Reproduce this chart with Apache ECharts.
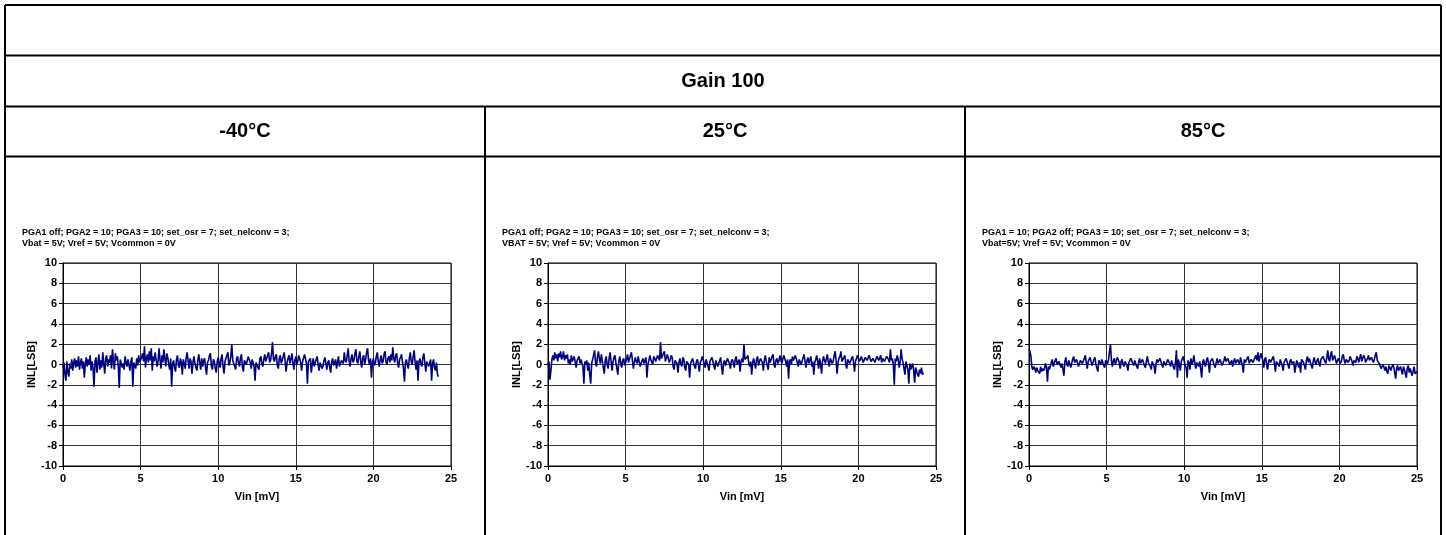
<!DOCTYPE html>
<html>
<head>
<meta charset="utf-8">
<script src="https://cdn.jsdelivr.net/npm/echarts@6/dist/echarts.min.js"></script>
<style>
  html, body { margin: 0; padding: 0; background: #fff; }
  #main { width: 1446px; height: 535px; }
</style>
</head>
<body>
<div id="main"></div>
<script>
'use strict';

// table headers
var tableTitle = 'Gain 100';
var temperatures = ['-40°C', '25°C', '85°C'];
var conditions = [
    ['PGA1 off; PGA2 = 10; PGA3 = 10; set_osr = 7; set_nelconv = 3;', 'Vbat = 5V; Vref = 5V; Vcommon = 0V'],
    ['PGA1 off; PGA2 = 10; PGA3 = 10; set_osr = 7; set_nelconv = 3;', 'VBAT = 5V; Vref = 5V; Vcommon = 0V'],
    ['PGA1 = 10; PGA2 off; PGA3 = 10; set_osr = 7; set_nelconv = 3;', 'Vbat=5V; Vref = 5V; Vcommon = 0V']
];

// axis ticks
var xTicks = [0, 5, 10, 15, 20, 25];
var yTicks = [-10, -8, -6, -4, -2, 0, 2, 4, 6, 8, 10];

// Vin sample step [mV]
var vinStep = 0.0625;

// INL [LSB], 16 samples per mV (one row per mV)
var inlMinus40 = [
    -0.3, 0.2, -1.0, -1.6, 0.3, -0.8, -1.2, 0.1, -0.4, 0.5, -0.6, 0.2, 0.6, -0.3, 0.4, -0.2,
    0.8, -0.5, 0.2, 0.6, -0.4, 0.3, -1.3, 0.1, 0.7, -0.2, 0.5, 0.0, 0.9, -0.6, 0.3, -0.4,
    -2.2, 0.3, 0.7, -0.8, 0.2, 1.0, -0.5, 0.4, -0.3, 1.2, 0.1, -0.9, 0.6, 0.9, -0.2, 0.5,
    0.2, 0.9, -0.4, 1.5, 0.3, -0.5, 1.1, 0.4, 0.8, -0.2, -2.3, 0.5, 0.6, -0.3, 0.1, -0.5,
    0.8, 0.2, -0.2, 0.5, 0.4, -0.6, 0.3, 0.7, -2.2, 0.2, 0.3, -0.4, 0.6, -0.1, 0.9, 0.2,
    0.2, 0.7, 1.1, 0.3, 1.8, -0.3, 0.6, 1.0, 0.2, 1.3, 0.4, 1.6, -0.6, 0.8, 0.3, 1.2,
    1.2, -0.2, 0.3, 1.6, 0.5, -0.4, 0.9, 0.2, 1.5, 0.6, -0.2, 1.1, 0.7, 0.0, -0.5, 0.6,
    -2.2, 0.1, 0.4, -0.3, -0.7, 0.5, 0.9, -0.1, -0.3, 0.6, 0.2, -1.0, 0.5, 0.1, -0.4, 0.7,
    1.2, 0.3, -0.4, 0.6, 0.3, -0.9, 0.2, 0.8, 0.1, -0.3, -0.6, 0.4, 1.0, 0.2, -0.5, 0.6,
    -0.2, 0.4, 0.6, -0.3, -1.0, 0.2, 0.4, 0.9, 1.1, -0.2, -0.5, 0.5, 0.3, -0.4, -0.8, 0.3,
    0.7, 0.1, -0.3, 0.6, 1.0, -0.2, -0.9, 0.3, 0.4, 0.9, 1.2, -0.1, 0.2, 0.8, 2.0, 0.4,
    0.3, -0.2, -0.5, 0.6, 0.8, 0.1, -0.2, 0.7, 1.0, -0.3, -0.7, 0.4, 0.5, 0.0, 0.1, 0.8,
    0.9, 0.2, -0.4, 0.5, 0.6, -0.2, -1.6, 0.2, 0.3, -0.3, -0.5, 0.6, 0.8, 0.1, -0.2, 0.5,
    1.0, 0.3, 0.2, 0.9, 1.2, 0.2, 0.4, 1.1, 2.2, 0.5, 0.3, 0.8, 1.0, -0.1, -0.4, 0.6,
    0.9, 0.1, 0.2, 0.8, 1.2, 0.3, -0.7, 0.2, 0.6, 0.9, 0.1, 0.5, 1.1, 0.2, -0.5, 0.4,
    0.8, 0.0, 0.3, 0.9, 1.0, 0.2, -0.6, 0.3, 0.4, 1.0, 0.9, 0.1, -1.9, 0.3, 0.2, 0.6,
    -0.8, 0.1, 0.6, -0.2, -0.3, 0.5, 0.8, 0.0, -0.6, 0.2, 0.3, -0.4, -0.2, 0.4, 0.7, 0.1,
    -0.5, 0.2, 0.4, -0.3, -0.8, 0.3, 0.6, -0.1, 0.0, 0.5, -0.4, 0.2, 0.8, -0.2, -0.3, 0.4,
    0.5, 0.1, 1.2, 0.4, 0.2, 0.9, 1.6, 0.3, -0.2, 0.6, 1.0, 0.2, 0.4, 1.1, 1.5, 0.3,
    0.1, 0.8, 1.3, 0.2, -0.3, 0.7, 0.9, 0.0, 0.5, 1.2, 1.6, 0.4, 0.0, 0.6, -1.3, 0.2,
    0.6, -0.1, 0.1, 0.8, 1.2, 0.3, -0.2, 0.5, 0.9, 0.1, 0.3, 1.0, 1.3, 0.2, 0.0, 0.6,
    0.8, 0.2, 1.0, 0.4, 1.7, 0.6, 0.2, 0.9, 1.1, 0.1, -0.3, 0.5, 0.7, 1.0, 0.2, -0.4,
    -1.7, 0.2, 0.5, -0.1, -0.4, 0.6, 1.2, 0.3, 0.0, 0.8, 1.4, 0.2, -0.5, 0.4, -1.6, 0.3,
    0.6, 0.0, -0.2, 0.7, 1.1, 0.2, -0.7, 0.3, 0.4, -0.2, -0.3, 0.5, -1.6, 0.1, 0.5, -0.3,
    -0.6, 0.2, -0.9, -1.2
];

var inl25 = [
    0.0, 0.3, -1.5, -0.6, 0.5, 0.9, 0.4, 1.2, 0.6, 1.0, 0.3, 1.1, 0.7, 1.3, 0.5, 0.8,
    1.3, 0.4, 0.9, 0.6, 1.0, 0.1, 0.5, 0.0, 0.9, 0.3, 0.2, 0.8, 0.7, -0.3, 0.4, 0.6,
    0.8, 0.1, 0.5, 0.6, -0.2, -1.9, 0.3, 0.0, 0.4, -0.6, 0.2, -1.0, -1.9, 0.1, 0.5, 0.9,
    1.4, 0.2, -0.2, 0.8, 1.3, 0.5, 0.1, 1.0, 0.9, -0.3, -0.9, 0.4, 0.8, 0.0, -0.4, 0.6,
    1.2, 0.3, -0.6, 0.2, 0.7, 0.9, 0.2, -0.4, -1.0, 0.3, 0.8, 0.1, -0.3, 0.4, 0.6, -0.1,
    -0.1, 0.5, 1.0, 0.2, 0.3, 0.9, 1.2, 0.4, -0.4, 0.2, 0.7, 0.3, 0.1, 0.8, 0.9, -0.2,
    -0.3, 0.4, 0.6, 0.1, 0.2, 0.7, -1.3, 0.0, 0.4, 0.9, 0.5, 0.2, 0.0, 0.8, 0.6, 0.3,
    0.3, 0.9, 1.0, 0.4, 2.2, 0.6, 0.5, 1.1, 1.3, 0.3, 0.4, 1.0, 1.0, 0.2, 0.5, 0.9,
    0.7, -0.2, -0.5, 0.4, 0.4, 0.1, -0.8, 0.2, 0.6, 0.0, -0.2, 0.7, 0.5, -0.3, -0.6, 0.3,
    0.3, 0.0, -1.3, 0.1, 0.2, 0.6, 0.7, -0.2, -0.4, 0.3, 0.5, 0.1, -0.7, 0.2, 0.4, 0.8,
    0.9, 0.1, -0.3, 0.5, 0.6, -0.2, -0.6, 0.3, 0.2, 0.7, 0.8, -0.1, -0.5, 0.4, 0.3, -0.2,
    -0.2, 0.4, 0.7, -0.3, -1.0, 0.2, 0.4, -0.1, 0.0, 0.6, 0.6, 0.1, -0.4, 0.3, 0.5, 0.2,
    -0.3, 0.5, 0.8, 0.0, 0.1, 0.5, -0.7, 0.3, 0.6, 0.2, 2.0, 0.5, 0.4, 0.7, 0.9, 0.1,
    -0.2, 0.3, -1.0, 0.2, 0.6, 0.1, -0.4, 0.5, 0.8, -0.1, 0.0, 0.6, 0.5, 0.2, -0.6, 0.4,
    0.9, 0.3, 0.2, -0.5, 0.7, 0.2, 0.1, 0.8, 1.0, 0.0, -0.3, 0.4, 0.6, 0.1, 0.3, 0.9,
    1.0, 0.1, 0.2, 0.9, 1.0, 0.3, -0.2, 0.5, -1.4, 0.3, 0.5, 0.0, 0.8, 0.4, 0.3, 0.9,
    0.9, 0.2, -0.2, 0.5, 0.6, 0.0, 0.1, 0.7, 1.0, 0.3, -0.3, 0.4, 0.7, 0.1, 0.2, 0.8,
    -0.2, 0.3, -1.0, 0.2, 0.5, 0.9, 0.3, -0.4, 0.6, 0.1, -0.9, 0.3, 0.8, 0.4, 0.1, 0.6,
    1.0, 0.2, -0.2, 0.6, 0.7, 0.1, 0.3, 0.9, 1.3, 0.4, -0.9, 0.2, 0.6, 0.8, 1.3, 0.3,
    0.2, 0.7, 0.9, 0.0, -0.4, 0.5, 0.6, 0.1, 0.0, 0.6, 0.8, 0.2, -0.7, 0.3, 0.4, 0.9,
    1.0, 0.3, 0.5, 0.8, 0.8, 0.2, 0.3, 0.7, 0.7, 0.4, 0.4, 0.9, 0.9, 0.3, 0.2, 0.6,
    0.6, 0.2, 0.3, 0.8, 0.8, 0.4, 0.5, 0.9, 0.2, 0.6, 0.7, 0.3, 0.4, 0.8, 0.9, 0.5,
    0.2, 1.5, 0.4, 0.6, 0.0, -2.0, 0.6, 0.3, 0.9, 0.5, -0.3, 0.2, 1.5, 0.6, 0.2, -0.4,
    -1.0, 0.3, 0.3, -0.5, -1.9, 0.1, -0.5, -0.2, 0.1, -0.6, -1.8, -0.3, -0.4, -1.0, -1.2, -0.5,
    -0.9, -0.3, -1.0, -0.8
];

var inl85 = [
    1.5, 1.3, 0.8, -0.3, -0.5, -0.2, -0.4, -0.8, -0.3, -0.6, -0.5, -0.9, -0.2, -0.7, -0.4, -0.6,
    -0.4, 0.1, -0.3, -1.7, -0.2, -0.5, -0.6, 0.2, 0.5, -0.2, -0.3, 0.4, 0.6, 0.0, -0.1, 0.3,
    0.4, -0.3, 0.1, 0.2, -1.1, 0.3, 0.7, 0.0, -0.2, 0.4, 0.3, -0.3, -0.4, 0.5, 0.8, 0.2,
    0.1, 0.5, 0.6, -0.2, -0.3, 0.4, 0.5, 0.1, 0.0, 0.6, 0.9, 0.2, -0.4, 0.3, 0.3, 0.7,
    0.6, -0.1, -0.2, 0.5, 0.7, 0.0, 0.1, -0.7, 0.4, 0.2, 0.0, 0.5, 0.6, -0.1, -0.3, 0.4,
    0.3, 0.1, 0.5, 0.4, 2.0, 0.3, -0.2, 0.4, 0.6, 0.0, 0.1, 0.7, 0.8, 0.2, -0.4, 0.3,
    0.5, 0.0, -0.2, 0.3, 0.4, -0.1, -0.6, 0.2, 0.3, 0.6, 0.7, 0.1, -0.1, 0.4, 0.5, -0.2,
    -0.4, 0.2, 0.6, 0.1, 0.0, 0.5, 0.4, -0.1, -0.3, 0.3, 0.8, 0.2, 0.2, -0.2, -0.5, 0.3,
    0.4, -0.2, -0.9, 0.1, 0.5, 0.2, 0.1, 0.6, 0.7, 0.0, -0.3, 0.3, 0.4, -0.1, 0.0, 0.5,
    0.6, 0.1, -0.2, 0.4, 0.3, -0.3, -0.5, 0.2, 1.4, -1.3, 0.5, 0.0, -0.6, 0.3, 0.4, 0.8,
    0.8, -0.1, -0.3, -1.3, 0.4, 0.2, -0.5, 0.6, 0.0, 0.3, 0.9, 0.1, -0.4, 0.2, 0.3, -0.2,
    0.3, -0.4, -1.3, 0.2, 0.5, 0.0, -0.2, 0.4, 0.7, 0.1, -0.8, 0.3, 0.2, 0.6, 0.5, -0.1,
    -0.3, 0.2, 0.6, 0.1, 0.1, 0.5, 0.4, -0.1, -0.2, 0.4, 0.8, 0.3, 0.2, 0.6, 0.5, 0.0,
    0.0, 0.4, -0.2, 0.3, 0.6, 0.1, 0.1, 0.5, 0.4, 0.0, 0.7, 0.3, -0.1, -0.8, 0.5, 0.2,
    0.2, 0.6, 0.8, 0.1, 0.0, 0.5, 0.6, 0.2, 0.3, 0.7, 0.9, 0.4, 1.2, 0.3, 0.4, 1.1,
    1.2, 0.4, -0.3, 0.5, 0.7, 0.0, -0.5, 0.3, 0.5, 0.2, 0.1, 0.6, 0.8, 0.1, -0.7, 0.3,
    0.4, 0.0, -0.2, 0.5, 0.6, -0.1, -0.6, 0.2, 0.3, 0.6, 0.7, 0.0, -0.4, 0.3, 0.5, 0.1,
    0.0, 0.3, -0.8, -0.2, 0.4, 0.1, -0.3, 0.2, -0.8, 0.5, 0.6, 0.2, 0.1, -0.5, 0.4, 0.8,
    0.2, 0.6, 0.5, -0.1, -0.4, 0.3, 0.7, 0.2, 0.0, 0.4, 0.6, 0.1, -0.2, 0.5, 0.4, 0.8,
    0.8, 0.3, 0.1, 0.7, 1.4, 0.5, 0.3, 1.0, 1.3, 0.4, 0.5, 0.9, 0.9, 0.1, 0.2, 0.6,
    0.7, 0.1, 0.3, 0.8, 1.0, 0.4, 0.1, 0.5, 0.6, 0.2, 0.4, 0.8, 0.9, 0.3, -0.1, 0.4,
    0.5, 0.2, 0.8, 0.6, 0.2, 0.7, 1.0, 0.3, 0.4, 0.9, 0.7, 0.2, 0.1, 0.6, 0.9, 0.4,
    0.3, 0.7, 0.8, 0.2, 0.5, 0.9, 1.2, 0.4, 0.5, 0.1, 0.1, -0.4, -0.3, 0.0, -0.1, -0.6,
    -0.2, -0.7, -0.9, -0.1, -0.3, -0.6, -0.5, 0.0, -0.2, -0.8, -1.4, -0.4, -0.1, -0.6, -0.7, -0.2,
    -0.3, -1.0, -0.2, -0.5, -0.6, -1.3, -0.3, -0.1, -0.8, -0.4, -0.4, -1.1, -0.7, -0.2, -0.9, -1.0,
    -0.7
];

var seriesValues = [inlMinus40, inl25, inl85];

var FONT = '"Liberation Sans", Arial, sans-serif';
var myChart = echarts.init(document.getElementById('main'), null, {renderer: 'canvas'});

// table layout (pixels)
var colX = [5, 485, 965, 1441];
var rowY = [5, 55.5, 106.5, 156.5, 540];
var plotLeft = [63, 548, 1029];
var plotWidth = 388;
var plotTop = 263;
var plotHeight = 203;

var graphics = [];
function hline(x1, x2, y) {
    graphics.push({type: 'line', shape: {x1: x1, y1: y, x2: x2, y2: y}, style: {stroke: '#000', lineWidth: 2}, silent: true});
}
function vline(x, y1, y2) {
    graphics.push({type: 'line', shape: {x1: x, y1: y1, x2: x, y2: y2}, style: {stroke: '#000', lineWidth: 2}, silent: true});
}
hline(colX[0], colX[3], rowY[0]);
hline(colX[0], colX[3], rowY[1]);
hline(colX[0], colX[3], rowY[2]);
hline(colX[0], colX[3], rowY[3]);
vline(colX[0], rowY[0], rowY[4]);
vline(colX[3], rowY[0], rowY[4]);
vline(colX[1], rowY[2], rowY[4]);
vline(colX[2], rowY[2], rowY[4]);

graphics.push({
    type: 'text', x: (colX[0] + colX[3]) / 2, y: (rowY[1] + rowY[2]) / 2,
    style: {text: tableTitle, font: 'bold 20px ' + FONT, fill: '#000', textAlign: 'center', textVerticalAlign: 'middle'}
});

var grids = [], xAxes = [], yAxes = [], series = [];
temperatures.forEach(function (t, i) {
    graphics.push({
        type: 'text', x: (colX[i] + colX[i + 1]) / 2, y: (rowY[2] + rowY[3]) / 2,
        style: {text: t, font: 'bold 20px ' + FONT, fill: '#000', textAlign: 'center', textVerticalAlign: 'middle'}
    });
    // test conditions, two lines above each plot
    graphics.push({
        type: 'text', x: colX[i] + 17, y: 227,
        style: {text: conditions[i].join('\n'), font: 'bold 9px ' + FONT, lineHeight: 11, fill: '#000', textAlign: 'left', textVerticalAlign: 'top'}
    });

    grids.push({left: plotLeft[i], top: plotTop, width: plotWidth, height: plotHeight,
        show: true, borderColor: '#000', borderWidth: 1, backgroundColor: '#fff'});
    xAxes.push({
        type: 'value', gridIndex: i, min: xTicks[0], max: xTicks[xTicks.length - 1], interval: 5,
        name: 'Vin [mV]', nameLocation: 'middle', nameGap: 25,
        nameTextStyle: {fontFamily: FONT, fontWeight: 'bold', fontSize: 11, color: '#000'},
        axisLine: {show: true, onZero: false, lineStyle: {color: '#000', width: 1}},
        axisTick: {show: true, inside: false, length: 4, lineStyle: {color: '#000'}},
        axisLabel: {fontFamily: FONT, fontWeight: 'bold', fontSize: 11, color: '#000', margin: 7},
        splitLine: {show: true, lineStyle: {color: '#333', width: 1}}
    });
    yAxes.push({
        type: 'value', gridIndex: i, min: yTicks[0], max: yTicks[yTicks.length - 1], interval: 2,
        name: 'INL[LSB]', nameLocation: 'middle', nameGap: 26, nameRotate: 90,
        nameTextStyle: {fontFamily: FONT, fontWeight: 'bold', fontSize: 11, color: '#000'},
        axisLine: {show: true, lineStyle: {color: '#000', width: 1}},
        axisTick: {show: true, inside: false, length: 4, lineStyle: {color: '#000'}},
        axisLabel: {fontFamily: FONT, fontWeight: 'bold', fontSize: 11, color: '#000', margin: 6},
        splitLine: {show: true, lineStyle: {color: '#333', width: 1}}
    });
    series.push({
        type: 'line', xAxisIndex: i, yAxisIndex: i, showSymbol: false, symbol: 'none',
        animation: false, silent: true,
        lineStyle: {color: '#000080', width: 1.6},
        data: seriesValues[i].map(function (v, k) { return [k * vinStep, v]; })
    });
});

var option = {
    backgroundColor: '#fff',
    animation: false,
    grid: grids,
    xAxis: xAxes,
    yAxis: yAxes,
    series: series,
    graphic: graphics
};

myChart.setOption(option);
</script>
</body>
</html>
